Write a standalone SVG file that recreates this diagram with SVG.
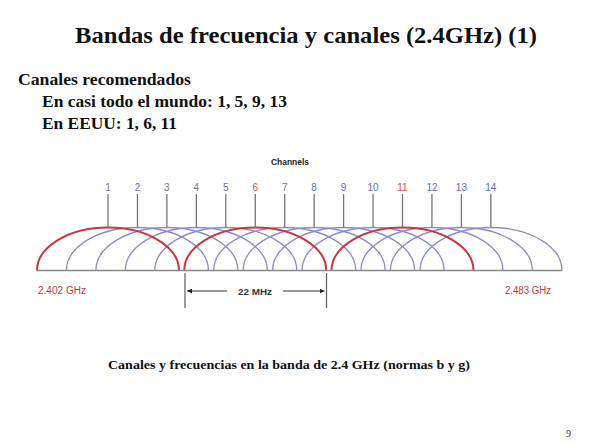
<svg xmlns="http://www.w3.org/2000/svg" width="610" height="443" viewBox="0 0 610 443">
<style>
.ser{font-family:"Liberation Serif","Times New Roman",serif;font-weight:bold;fill:#111}
.sans{font-family:"Liberation Sans",Arial,sans-serif}
.blue{fill:none;stroke:#8a8ad6;stroke-width:1.3}
.red{fill:none;stroke:#c8373a;stroke-width:2}
.tick{stroke:#777;stroke-width:1.3}
.lbl{font-family:"Liberation Sans",Arial,sans-serif;font-size:10px;text-anchor:middle}
.g{fill:#777}.b{fill:#6a6ac8}.r{fill:#d05050}
.pg{font-family:"Liberation Serif","Times New Roman",serif;font-size:10px;fill:#333}
</style>
<defs>
<marker id="ah" viewBox="0 0 6 6" refX="6" refY="3" markerWidth="5" markerHeight="5" orient="auto-start-reverse">
<path d="M0,0 L6,3 L0,6 z" fill="#222"/>
</marker>
</defs>
<rect width="610" height="443" fill="#fff"/>
<g id="title"><text class="ser" x="306" y="43" font-size="24" text-anchor="middle" textLength="462" lengthAdjust="spacingAndGlyphs">Bandas de frecuencia y canales (2.4GHz) (1)</text></g>
<g id="text-block">
<text class="ser" x="18" y="85" font-size="16" textLength="173" lengthAdjust="spacingAndGlyphs">Canales recomendados</text>
<text class="ser" x="42" y="107" font-size="16" textLength="245" lengthAdjust="spacingAndGlyphs">En casi todo el mundo: 1, 5, 9, 13</text>
<text class="ser" x="42" y="129" font-size="16" textLength="135" lengthAdjust="spacingAndGlyphs">En EEUU: 1, 6, 11</text>
</g>
<g id="chart-title"><text class="sans" x="290" y="165" font-size="8.5" font-weight="bold" text-anchor="middle" fill="#222" textLength="38" lengthAdjust="spacingAndGlyphs">Channels</text></g>
<g id="connectors">
<g id="blue-arcs">
<path class="blue" d="M66.45,270.5 A71,43 0 0 1 208.45,270.5"/>
<path class="blue" d="M95.9,270.5 A71,43 0 0 1 237.9,270.5"/>
<path class="blue" d="M125.35,270.5 A71,43 0 0 1 267.35,270.5"/>
<path class="blue" d="M154.8,270.5 A71,43 0 0 1 296.8,270.5"/>
<path class="blue" d="M213.7,270.5 A71,43 0 0 1 355.7,270.5"/>
<path class="blue" d="M243.15,270.5 A71,43 0 0 1 385.15,270.5"/>
<path class="blue" d="M272.6,270.5 A71,43 0 0 1 414.6,270.5"/>
<path class="blue" d="M302.05,270.5 A71,43 0 0 1 444.05,270.5"/>
<path class="blue" d="M360.95,270.5 A71,43 0 0 1 502.95,270.5"/>
<path class="blue" d="M390.4,270.5 A71,43 0 0 1 532.4,270.5"/>
<path class="blue" d="M420,270.5 A71,43 0 0 1 562,270.5"/>
</g>
<g id="red-arcs">
<path class="red" d="M37,270.5 A71,43 0 0 1 179,270.5"/>
<path class="red" d="M184.25,270.5 A71,43 0 0 1 326.25,270.5"/>
<path class="red" d="M331.5,270.5 A71,43 0 0 1 473.5,270.5"/>
</g>
<line x1="37" y1="270.5" x2="562" y2="270.5" stroke="#888" stroke-width="1.5"/>
<g id="ticks">
<line class="tick" x1="108" y1="194" x2="108" y2="227.5"/>
<line class="tick" x1="137.45" y1="194" x2="137.45" y2="227.5"/>
<line class="tick" x1="166.9" y1="194" x2="166.9" y2="227.5"/>
<line class="tick" x1="196.35" y1="194" x2="196.35" y2="227.5"/>
<line class="tick" x1="225.8" y1="194" x2="225.8" y2="227.5"/>
<line class="tick" x1="255.25" y1="194" x2="255.25" y2="227.5"/>
<line class="tick" x1="284.7" y1="194" x2="284.7" y2="227.5"/>
<line class="tick" x1="314.15" y1="194" x2="314.15" y2="227.5"/>
<line class="tick" x1="343.6" y1="194" x2="343.6" y2="227.5"/>
<line class="tick" x1="373.05" y1="194" x2="373.05" y2="227.5"/>
<line class="tick" x1="402.5" y1="194" x2="402.5" y2="227.5"/>
<line class="tick" x1="431.95" y1="194" x2="431.95" y2="227.5"/>
<line class="tick" x1="461.4" y1="194" x2="461.4" y2="227.5"/>
<line class="tick" x1="490.85" y1="194" x2="490.85" y2="227.5"/>
</g>
<g id="dimension">
<line x1="185" y1="273" x2="185" y2="308" stroke="#666" stroke-width="1.3"/>
<line x1="326.5" y1="273" x2="326.5" y2="308" stroke="#666" stroke-width="1.3"/>
<line x1="187" y1="291" x2="227" y2="291" stroke="#333" stroke-width="1" marker-start="url(#ah)"/>
<line x1="283" y1="291" x2="324.5" y2="291" stroke="#333" stroke-width="1" marker-end="url(#ah)"/>
</g>
</g>
<g id="channel-labels">
<text class="lbl g" x="108" y="191">1</text>
<text class="lbl b" x="137.45" y="191">2</text>
<text class="lbl g" x="166.9" y="191">3</text>
<text class="lbl g" x="196.35" y="191">4</text>
<text class="lbl b" x="225.8" y="191">5</text>
<text class="lbl r" x="255.25" y="191">6</text>
<text class="lbl g" x="284.7" y="191">7</text>
<text class="lbl b" x="314.15" y="191">8</text>
<text class="lbl b" x="343.6" y="191">9</text>
<text class="lbl b" x="373.05" y="191">10</text>
<text class="lbl r" x="402.5" y="191">11</text>
<text class="lbl b" x="431.95" y="191">12</text>
<text class="lbl b" x="461.4" y="191">13</text>
<text class="lbl b" x="490.85" y="191">14</text>
</g>
<g id="freq-labels">
<text class="sans" x="38" y="294" font-size="10" fill="#c8373a" textLength="48" lengthAdjust="spacingAndGlyphs">2.402 GHz</text>
<text class="sans" x="505" y="294" font-size="10" fill="#c8373a" textLength="46" lengthAdjust="spacingAndGlyphs">2.483 GHz</text>
<text class="sans" x="255" y="294.5" font-size="9.5" font-weight="bold" fill="#333" text-anchor="middle" textLength="34" lengthAdjust="spacingAndGlyphs">22 MHz</text>
</g>
<g id="caption"><text class="ser" x="108" y="369" font-size="12.5" textLength="362" lengthAdjust="spacingAndGlyphs">Canales y frecuencias en la banda de 2.4 GHz (normas b y g)</text></g>
<g id="page"><text class="pg" x="566" y="437">9</text></g>
</svg>
